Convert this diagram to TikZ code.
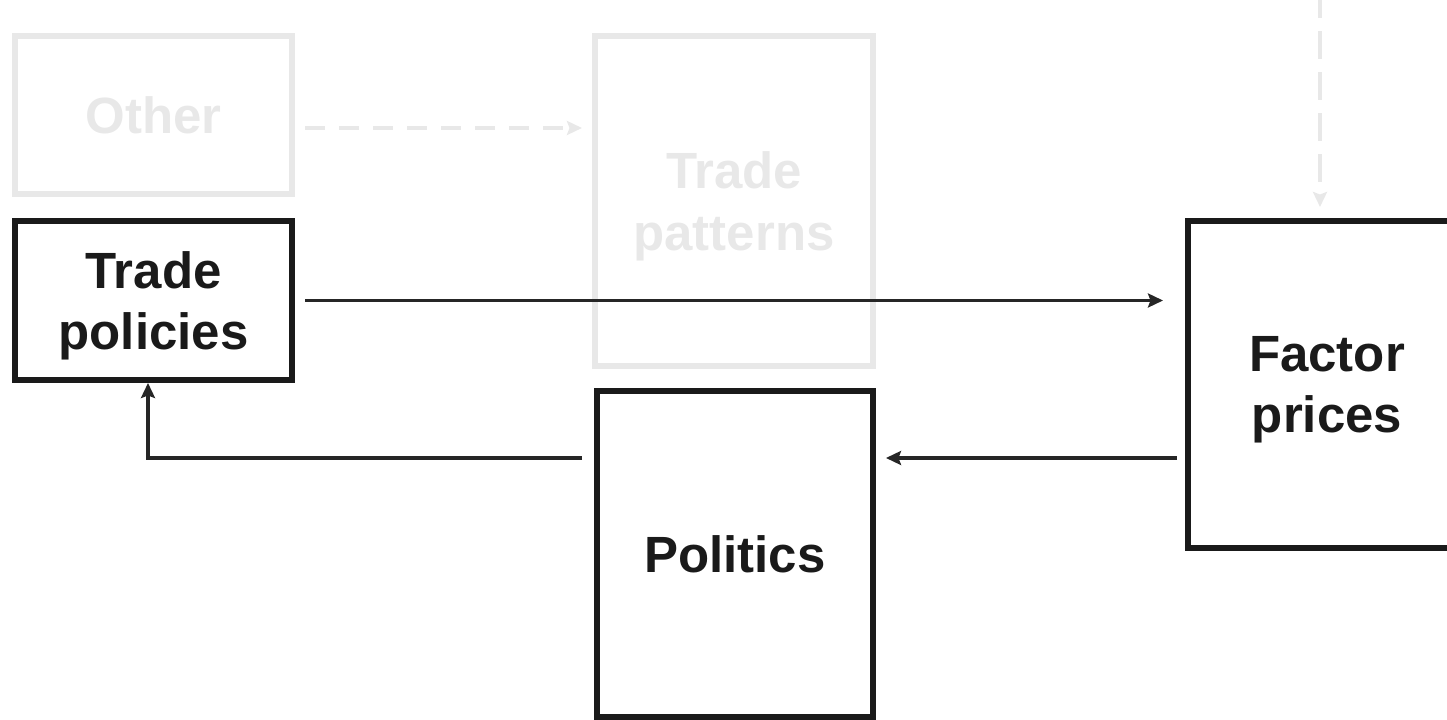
\documentclass[tikz,border=0pt]{standalone}
\usepackage{fontspec}
\setmainfont{Liberation Sans}
\usetikzlibrary{arrows.meta}
\definecolor{ink}{HTML}{1A1A1A}
\definecolor{wire}{HTML}{262626}
\definecolor{ghost}{HTML}{E8E8E8}
\begin{document}
\begin{tikzpicture}[
	box/.style={draw=ink,line width=0.12cm,text=ink,align=center,inner sep=0pt,text depth=0pt,font=\fontsize{29}{35}\selectfont\bfseries},
	faded/.style={box,draw=ghost,text=ghost},
	arr/.style={draw=wire,line width=0.075cm,-{Stealth[length=0.3cm,width=0.28cm,inset=0.05cm]}},
	ghostarr/.style={draw=ghost,line width=0.075cm,dash pattern=on 0.4cm off 0.28cm,-{Stealth[length=0.3cm,width=0.28cm,inset=0.05cm]}}]
\useasboundingbox (0,0) rectangle (28.94,14.4);
\clip (0,0) rectangle (28.94,14.4);

\node[faded,minimum width=5.54cm,minimum height=3.16cm] (other) at (3.07,12.1) {Other};
\node[faded,minimum width=5.56cm,minimum height=6.6cm] (patterns) at (14.68,10.38) {Trade\\patterns};
\node[box,minimum width=5.54cm,minimum height=3.18cm] (policies) at (3.07,8.39) {Trade\\policies};
\node[box,minimum width=5.52cm,minimum height=6.52cm] (politics) at (14.7,3.32) {Politics};
\node[box,minimum width=5.56cm,minimum height=6.54cm] (factor) at (26.54,6.71) {Factor\\prices};

\coordinate (o1) at ([shift={(0.2,-0.26)}]other.east);
\coordinate (top) at (26.4,14.6);
\coordinate (back) at ([shift={(-0.16,-1.47)}]factor.west);

\draw[ghostarr] (o1) -- ([xshift=-0.2cm]o1 -| patterns.west);
\draw[ghostarr,dash pattern=on 0.56cm off 0.26cm] (top) -- ([yshift=0.22cm]top |- factor.north);
\draw[arr] ([xshift=0.2cm]policies.east) -- ([xshift=-0.44cm]policies.east -| factor.west);
\draw[arr] (back) -- ([xshift=0.2cm]back -| politics.east);
\draw[arr] ([xshift=-0.24cm]back -| politics.west) -| ([xshift=-0.11cm]policies.south);
\end{tikzpicture}
\end{document}
